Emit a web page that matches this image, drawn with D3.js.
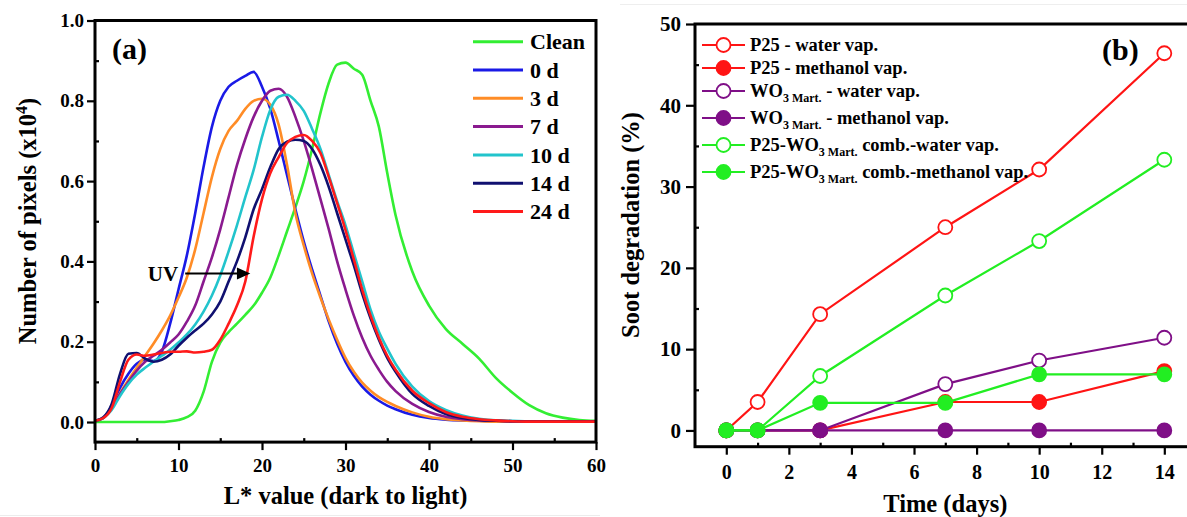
<!DOCTYPE html>
<html><head><meta charset="utf-8">
<script src="https://cdn.jsdelivr.net/npm/d3@7"></script>
<style>
body{margin:0;background:#fff;}
svg{display:block;}
text{font-family:"Liberation Serif","Times New Roman",serif;font-weight:bold;fill:#000;}
</style>
</head><body>
<svg id="chart" width="1187" height="517"></svg>
<script>
// ---------- Panel (a) data ----------
const lStar = [0,1,2,3,4,5,6,7,8,9,10,11,12,13,14,15,16,17,18,19,20,21,22,23,24,25,26,27,28,29,30,31,32,33,34,35,36,38,40,42,44,46,48,50,52,54,56,58,60];
const clean = [0,0,0,0,0,0,0,0,0,0.002,0.005,0.012,0.028,0.075,0.15,0.198,0.224,0.245,0.267,0.29,0.322,0.36,0.415,0.475,0.535,0.6,0.68,0.77,0.845,0.89,0.895,0.88,0.865,0.8,0.735,0.62,0.515,0.375,0.29,0.232,0.195,0.158,0.11,0.073,0.042,0.022,0.011,0.005,0.003];
const day0 = [0.003,0.01,0.04,0.085,0.12,0.145,0.155,0.152,0.175,0.245,0.33,0.415,0.52,0.635,0.735,0.8,0.835,0.85,0.862,0.872,0.835,0.78,0.7,0.615,0.53,0.45,0.38,0.315,0.25,0.195,0.15,0.115,0.088,0.068,0.053,0.041,0.032,0.018,0.01,0.006,0.004,0.003,0.002,0.002,0.002,0.002,0.002,0.002,0.002];
const day3 = [0.003,0.01,0.035,0.072,0.105,0.135,0.165,0.195,0.228,0.265,0.31,0.36,0.43,0.52,0.61,0.68,0.725,0.75,0.78,0.8,0.805,0.79,0.74,0.64,0.52,0.44,0.37,0.31,0.255,0.205,0.16,0.125,0.098,0.078,0.062,0.05,0.04,0.024,0.013,0.007,0.004,0.002,0.001,0.001,0.001,0.001,0.001,0.001,0.001];
const day7 = [0.003,0.01,0.035,0.07,0.1,0.128,0.15,0.165,0.18,0.198,0.218,0.25,0.29,0.35,0.41,0.48,0.56,0.64,0.705,0.76,0.8,0.825,0.83,0.81,0.76,0.7,0.63,0.555,0.48,0.4,0.33,0.265,0.21,0.165,0.13,0.1,0.077,0.045,0.025,0.013,0.007,0.004,0.003,0.002,0.002,0.002,0.002,0.002,0.002];
const day10 = [0.003,0.01,0.03,0.065,0.095,0.118,0.135,0.15,0.165,0.18,0.198,0.218,0.243,0.275,0.315,0.365,0.425,0.49,0.56,0.628,0.71,0.778,0.81,0.815,0.8,0.775,0.73,0.68,0.615,0.55,0.49,0.42,0.35,0.28,0.225,0.183,0.145,0.088,0.052,0.03,0.016,0.008,0.004,0.003,0.002,0.002,0.002,0.002,0.002];
const day14 = [0.003,0.012,0.045,0.12,0.17,0.172,0.158,0.15,0.155,0.168,0.19,0.21,0.228,0.245,0.268,0.3,0.35,0.4,0.46,0.53,0.58,0.635,0.68,0.698,0.703,0.7,0.68,0.64,0.585,0.52,0.455,0.39,0.32,0.258,0.205,0.16,0.125,0.07,0.04,0.02,0.01,0.005,0.003,0.002,0.002,0.002,0.002,0.002,0.002];
const day24 = [0.003,0.01,0.035,0.1,0.155,0.168,0.165,0.168,0.172,0.175,0.175,0.176,0.173,0.175,0.18,0.205,0.245,0.29,0.35,0.462,0.555,0.62,0.66,0.695,0.71,0.715,0.7,0.67,0.61,0.545,0.478,0.405,0.33,0.265,0.21,0.165,0.13,0.078,0.047,0.025,0.013,0.007,0.004,0.002,0.001,0.001,0.001,0.001,0.001];
const seriesNamesA = ["Clean","0 d","3 d","7 d","10 d","14 d","24 d"];
const seriesColorsA = ["#33ee33","#1a1ae6","#ff8c26","#8a1a8f","#22c4cc","#101070","#ff1a1a"];
const xTicksA = [0,10,20,30,40,50,60];
const xMinorA = [5,15,25,35,45,55];
const yTicksA = [0,0.2,0.4,0.6,0.8,1.0];
const yMinorA = [0.1,0.3,0.5,0.7,0.9];

// ---------- Panel (b) data ----------
const days = [0,1,3,7,10,14];
const p25Water = [0,3.5,14.3,25,32.1,46.4];
const p25Methanol = [0,0,0,3.5,3.5,7.3];
const wo3Water = [0,0,0,5.7,8.6,11.4];
const wo3Methanol = [0,0,0,0,0,0];
const combWater = [0,0,6.7,16.6,23.3,33.3];
const combMethanol = [0,0,3.4,3.4,6.9,6.9];
const xTicksB = [0,2,4,6,8,10,12,14];
const xMinorB = [1,3,5,7,9,11,13];
const yTicksB = [0,10,20,30,40,50];
const yMinorB = [5,15,25,35,45];

const svg = d3.select("#chart");

// faint scan borders seen in the source image
svg.append("line").attr("x1",0).attr("x2",600).attr("y1",515.5).attr("y2",515.5).attr("stroke","#ececec").attr("stroke-width",1);
svg.append("line").attr("x1",620).attr("x2",1187).attr("y1",4.5).attr("y2",4.5).attr("stroke","#eeeeee").attr("stroke-width",1);

// ================= Panel (a) =================
const xA = d3.scaleLinear().domain([0,60]).range([95,596]);
const yA = d3.scaleLinear().domain([-0.05,1.0]).range([442.1,20.5]);
const gA = svg.append("g");

const seriesA = [clean,day0,day3,day7,day10,day14,day24];
const lineA = d3.line().x((d,i)=>xA(lStar[i])).y(d=>yA(d)).curve(d3.curveMonotoneX);
seriesA.forEach((s,k)=>{
  gA.append("path").datum(s).attr("d",lineA).attr("fill","none")
    .attr("stroke",seriesColorsA[k]).attr("stroke-width",2.6).attr("stroke-linejoin","round");
});

gA.append("rect").attr("x",xA(0)).attr("y",yA(1.0)).attr("width",xA(60)-xA(0)).attr("height",yA(-0.05)-yA(1.0))
  .attr("fill","none").attr("stroke","#000").attr("stroke-width",3);

function styleTicks(g, size){
  g.select(".domain").remove();
  g.selectAll("line").attr("stroke","#000").attr("stroke-width",2.2);
  g.selectAll("text").style("font-size",size+"px").style("font-family",'"Liberation Serif","Times New Roman",serif').style("font-weight","bold").attr("fill","#000");
}
const axAx = gA.append("g").attr("transform",`translate(0,${yA(-0.05)})`)
  .call(d3.axisBottom(xA).tickValues(xTicksA).tickSize(8).tickFormat(d3.format("d")));
styleTicks(axAx,19);
axAx.selectAll("text").attr("y",30).attr("dy",0);
const axAxm = gA.append("g").attr("transform",`translate(0,${yA(-0.05)})`)
  .call(d3.axisBottom(xA).tickValues(xMinorA).tickSize(-4).tickFormat(""));
styleTicks(axAxm,19);
const axAy = gA.append("g").attr("transform",`translate(${xA(0)},0)`)
  .call(d3.axisLeft(yA).tickValues(yTicksA).tickSize(8).tickFormat(d3.format(".1f")));
styleTicks(axAy,19);
axAy.selectAll("text").attr("x",-11);
const axAym = gA.append("g").attr("transform",`translate(${xA(0)},0)`)
  .call(d3.axisLeft(yA).tickValues(yMinorA).tickSize(-4).tickFormat(""));
styleTicks(axAym,19);

gA.append("text").attr("x",(xA(0)+xA(60))/2).attr("y",504).attr("text-anchor","middle")
  .style("font-size","24.5px").text("L* value (dark to light)");
const yTitleA = gA.append("text").attr("transform","translate(27,221) rotate(-90)")
  .attr("text-anchor","middle").attr("dy","0.35em").style("font-size","24.5px");
yTitleA.append("tspan").text("Number of pixels (x10");
yTitleA.append("tspan").text("4").style("font-size","16px").attr("dy","-9");
yTitleA.append("tspan").text(")").attr("dy","9");

gA.append("text").attr("x",112).attr("y",59).style("font-size","30px").text("(a)");

seriesNamesA.forEach((n,k)=>{
  const cy = 41.7 + k*28.3;
  gA.append("line").attr("x1",473).attr("x2",523).attr("y1",cy).attr("y2",cy)
    .attr("stroke",seriesColorsA[k]).attr("stroke-width",3);
  gA.append("text").attr("x",530).attr("y",cy).attr("dy","0.35em").style("font-size","22px").text(n);
});

// UV arrow
const uvY = 0.370;
gA.append("text").attr("x",xA(9.95)).attr("y",yA(uvY)).attr("dy","0.35em").attr("text-anchor","end")
  .style("font-size","21px").text("UV");
gA.append("line").attr("x1",xA(10.8)).attr("x2",xA(17.3)).attr("y1",yA(uvY)).attr("y2",yA(uvY))
  .attr("stroke","#000").attr("stroke-width",2);
gA.append("path").attr("d",`M${xA(17.0)},${yA(uvY)-6} L${xA(18.6)},${yA(uvY)} L${xA(17.0)},${yA(uvY)+6} Z`).attr("fill","#000");

// ================= Panel (b) =================
const xB = d3.scaleLinear().domain([-1,15]).range([695,1195.6]);
const yB = d3.scaleLinear().domain([-2,50]).range([446.7,24]);
const gB = svg.append("g");

const RED="#ff1414", PURPLE="#7f0f87", GREEN="#22ee22";
const seriesB = [
  {vals:p25Water, color:RED, open:true},
  {vals:p25Methanol, color:RED, open:false},
  {vals:wo3Water, color:PURPLE, open:true},
  {vals:wo3Methanol, color:PURPLE, open:false},
  {vals:combWater, color:GREEN, open:true},
  {vals:combMethanol, color:GREEN, open:false}
];
const lineB = d3.line().x((d,i)=>xB(days[i])).y(d=>yB(d));
seriesB.forEach(s=>{
  gB.append("path").datum(s.vals).attr("d",lineB).attr("fill","none")
    .attr("stroke",s.color).attr("stroke-width",2.2);
  gB.selectAll(null).data(s.vals).enter().append("circle")
    .attr("cx",(d,i)=>xB(days[i])).attr("cy",d=>yB(d)).attr("r",7)
    .attr("fill",s.open?"#fff":s.color).attr("stroke",s.color).attr("stroke-width",1.8);
});

gB.append("rect").attr("x",xB(-1)).attr("y",yB(50)).attr("width",xB(15)-xB(-1)).attr("height",yB(-2)-yB(50))
  .attr("fill","none").attr("stroke","#000").attr("stroke-width",3);

const axBx = gB.append("g").attr("transform",`translate(0,${yB(-2)})`)
  .call(d3.axisBottom(xB).tickValues(xTicksB).tickSize(8).tickFormat(d3.format("d")));
styleTicks(axBx,20);
axBx.selectAll("text").attr("y",32.5).attr("dy",0);
const axBxm = gB.append("g").attr("transform",`translate(0,${yB(-2)})`)
  .call(d3.axisBottom(xB).tickValues(xMinorB).tickSize(-4).tickFormat(""));
styleTicks(axBxm,20);
const axBy = gB.append("g").attr("transform",`translate(${xB(-1)},0)`)
  .call(d3.axisLeft(yB).tickValues(yTicksB).tickSize(9).tickFormat(d3.format("d")));
styleTicks(axBy,21);
axBy.selectAll("text").attr("x",-14);
const axBym = gB.append("g").attr("transform",`translate(${xB(-1)},0)`)
  .call(d3.axisLeft(yB).tickValues(yMinorB).tickSize(-4).tickFormat(""));
styleTicks(axBym,20);

gB.append("text").attr("x",(xB(-1)+xB(15))/2).attr("y",512).attr("text-anchor","middle")
  .style("font-size","24.5px").text("Time (days)");
gB.append("text").attr("transform","translate(630,225) rotate(-90)").attr("text-anchor","middle")
  .attr("dy","0.35em").style("font-size","24.5px").text("Soot degradation (%)");
gB.append("text").attr("x",1102).attr("y",60).style("font-size","30px").text("(b)");

const legB = [
  {parts:[["P25 - water vap.",0]]},
  {parts:[["P25 - methanol vap.",0]]},
  {parts:[["WO",0],["3 Mart.",1],[" - water vap.",0]]},
  {parts:[["WO",0],["3 Mart.",1],[" - methanol vap.",0]]},
  {parts:[["P25-WO",0],["3 Mart.",1],[" comb.-water vap.",0]]},
  {parts:[["P25-WO",0],["3 Mart.",1],[" comb.-methanol vap.",0]]}
];
const legRows = [45,68,91,118,145,172];
legB.forEach((L,k)=>{
  const cy = legRows[k], s = seriesB[k];
  gB.append("line").attr("x1",702).attr("x2",745).attr("y1",cy).attr("y2",cy)
    .attr("stroke",s.color).attr("stroke-width",2.2);
  gB.append("circle").attr("cx",723.5).attr("cy",cy).attr("r",7)
    .attr("fill",s.open?"#fff":s.color).attr("stroke",s.color).attr("stroke-width",1.8);
  const t = gB.append("text").attr("x",750).attr("y",cy+6).style("font-size","18.5px");
  let down = false;
  L.parts.forEach(p=>{
    const ts = t.append("tspan").text(p[0]);
    if(p[1]===1){ ts.style("font-size","12px").attr("dy",5); down=true; }
    else if(down){ ts.attr("dy",-5); down=false; }
  });
});
</script>
</body></html>
